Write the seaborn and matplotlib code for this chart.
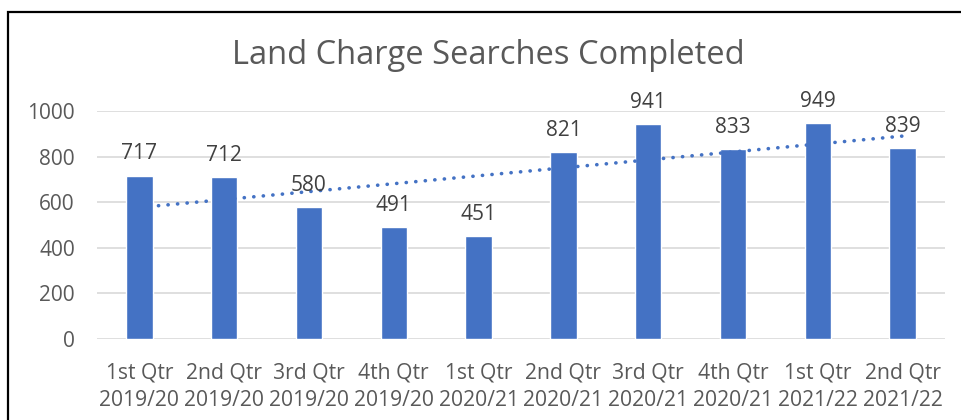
import numpy as np
import pandas as pd
import matplotlib
matplotlib.use("Agg")
import matplotlib.pyplot as plt
import seaborn as sns

categories = ["1st Qtr\n2019/20", "2nd Qtr\n2019/20", "3rd Qtr\n2019/20", "4th Qtr\n2019/20",
              "1st Qtr\n2020/21", "2nd Qtr\n2020/21", "3rd Qtr\n2020/21", "4th Qtr\n2020/21",
              "1st Qtr\n2021/22", "2nd Qtr\n2021/22"]
values = [717, 712, 580, 491, 451, 821, 941, 833, 949, 839]
yticks = [0, 200, 400, 600, 800, 1000]
title = "Land Charge Searches Completed"

sns.set_theme(style="white")
plt.rcParams['font.family'] = ['Open Sans', 'DejaVu Sans']

df = pd.DataFrame({"cat": categories, "val": values})

fig = plt.figure(figsize=(9.61, 4.2), dpi=100)
ax = fig.add_axes([97/961, 1 - 339/420, (945-97)/961, 228/420])

sns.barplot(data=df, x="cat", y="val", color="#4472C4", width=0.31,
            saturation=1, ax=ax, zorder=3)

# linear trendline
xs = np.arange(len(values))
coef = np.polyfit(xs, values, 1)
ax.plot(xs, np.polyval(coef, xs), linestyle=(0, (0.05, 2.6)), color="#4472C4",
        linewidth=2.6, dash_capstyle="round", zorder=4)

for i, v in enumerate(values):
    ax.annotate(str(v), (i, v), xytext=(0, 8), textcoords="offset points",
                ha="center", va="bottom", fontsize=15, color="#404040", zorder=5)

ax.set_ylim(0, 1000)
ax.set_xlim(-0.5, len(values) - 0.5)
ax.set_yticks(yticks)
ax.yaxis.grid(True, color="#D9D9D9", linewidth=1.2)
ax.set_axisbelow(True)
for s in ax.spines.values():
    s.set_visible(False)
ax.set_xlabel("")
ax.set_ylabel("")
ax.tick_params(axis="y", length=0, labelsize=15, labelcolor="#595959", pad=16)
ax.tick_params(axis="x", length=0, labelsize=15.2, labelcolor="#595959", pad=17)
for lbl in ax.get_xticklabels():
    lbl.set_linespacing(1.38)

fig.text(488/961, 1 - 56/420, title, ha="center", va="center", fontsize=23.5, color="#595959")

# chart frame
fig.patches.append(plt.Rectangle((8/961, -0.1), 1.2, 1 - 12/420 + 0.1,
                                 transform=fig.transFigure, fill=False,
                                 edgecolor="black", linewidth=1.6))

fig.savefig("out.png", dpi=100)
